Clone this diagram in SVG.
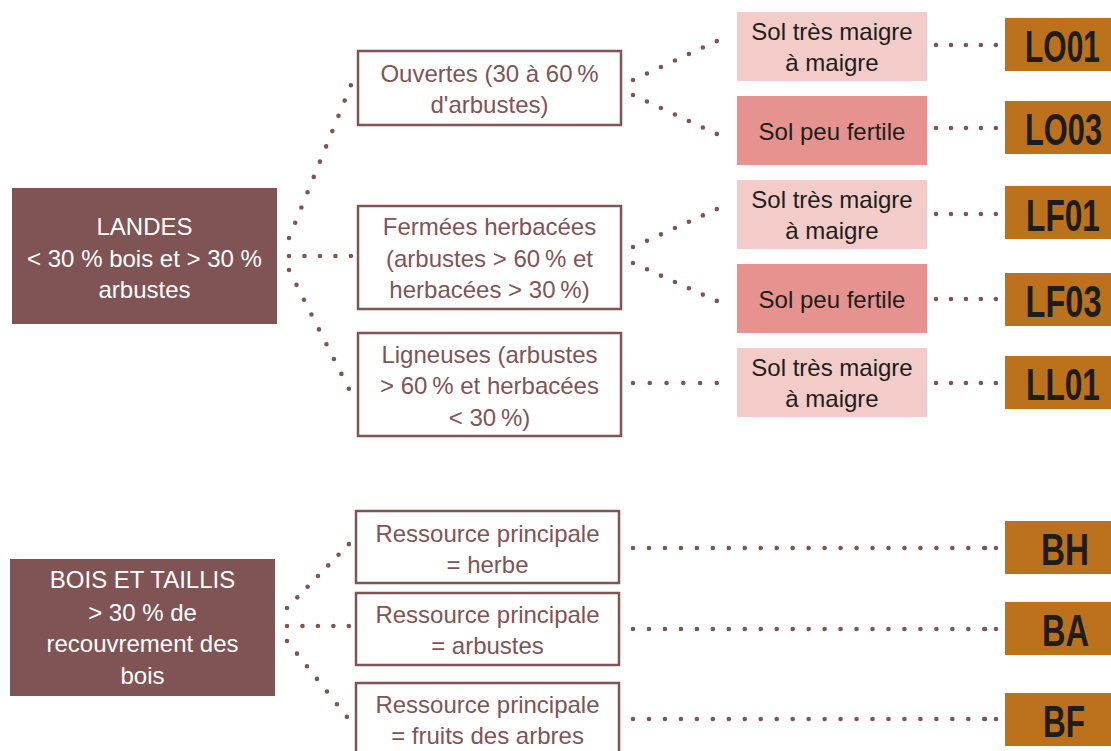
<svg xmlns="http://www.w3.org/2000/svg" width="1111" height="751" viewBox="0 0 1111 751">
<style>
.main{fill:#805455}
.box{fill:#fff;stroke:#805455;stroke-width:2.5}
.light{fill:#f3cbc8}
.dark{fill:#e6938f}
.code{fill:#bc721c}
.t{font-family:"Liberation Sans",Arial,sans-serif;font-size:24px;text-anchor:middle}
.tw{fill:#ffffff}
.tb{fill:#805455}
.td{fill:#1d1d1b}
.tc{font-family:"Liberation Sans",Arial,sans-serif;font-size:44px;font-weight:bold;fill:#1d1d1b;text-anchor:middle}
.c path{fill:none;stroke:#805455;stroke-width:4.6;stroke-linecap:round;stroke-dasharray:0 0.998}
</style>
<rect width="1111" height="751" fill="#ffffff"/>
<g class="c" id="connectors">
<path d="M289 238L351 85" pathLength="10"/>
<path d="M289 256H351" pathLength="4"/>
<path d="M289 270L349 389" pathLength="8"/>
<path d="M633 80L717 41" pathLength="6"/>
<path d="M633 95L717 134" pathLength="6"/>
<path d="M633 247L717 209" pathLength="6"/>
<path d="M633 263L717 301" pathLength="6"/>
<path d="M633 383H717" pathLength="5"/>
<path d="M936 45H996" pathLength="4"/>
<path d="M936 128H996" pathLength="4"/>
<path d="M936 214H996" pathLength="4"/>
<path d="M936 299H996" pathLength="4"/>
<path d="M936 383H996" pathLength="4"/>
<path d="M287 608L349 544" pathLength="6"/>
<path d="M287 626H349" pathLength="4"/>
<path d="M287 641L347 717" pathLength="6"/>
<path d="M633 548H985" pathLength="22"/>
<path d="M985 548H996" pathLength="1"/>
<path d="M633 629H985" pathLength="22"/>
<path d="M985 629H996" pathLength="1"/>
<path d="M633 719H985" pathLength="22"/>
<path d="M985 719H996" pathLength="1"/>
</g>
<g id="landes">
<rect class="main" x="12" y="188" width="265" height="136"/>
<text class="t tw"><tspan x="144.5" y="235">LANDES</tspan><tspan x="144.5" y="267">&lt; 30 % bois et &gt; 30 %</tspan><tspan x="144.5" y="298">arbustes</tspan></text>
</g>
<g id="ouvertes">
<rect class="box" x="358" y="51" width="263" height="74"/>
<text class="t tb"><tspan x="489.5" y="82">Ouvertes (30 à 60&#8201;%</tspan><tspan x="489.5" y="113">d'arbustes)</tspan></text>
</g>
<g id="fermees">
<rect class="box" x="358" y="206" width="263" height="103"/>
<text class="t tb"><tspan x="489.5" y="235">Fermées herbacées</tspan><tspan x="489.5" y="267">(arbustes &gt; 60&#8201;% et</tspan><tspan x="489.5" y="298">herbacées &gt; 30&#8201;%)</tspan></text>
</g>
<g id="ligneuses">
<rect class="box" x="358" y="333" width="263" height="103"/>
<text class="t tb"><tspan x="489.5" y="363">Ligneuses (arbustes</tspan><tspan x="489.5" y="394">&gt; 60&#8201;% et herbacées</tspan><tspan x="489.5" y="426">&lt; 30&#8201;%)</tspan></text>
</g>
<g id="sol1">
<rect class="light" x="737" y="12" width="190" height="69"/>
<text class="t td"><tspan x="832" y="40">Sol très maigre</tspan><tspan x="832" y="71">à maigre</tspan></text>
</g>
<g id="sol2">
<rect class="dark" x="737" y="96" width="190" height="69"/>
<text class="t td" x="832" y="140">Sol peu fertile</text>
</g>
<g id="sol3">
<rect class="light" x="737" y="180" width="190" height="69"/>
<text class="t td"><tspan x="832" y="208">Sol très maigre</tspan><tspan x="832" y="239">à maigre</tspan></text>
</g>
<g id="sol4">
<rect class="dark" x="737" y="264" width="190" height="69"/>
<text class="t td" x="832" y="308">Sol peu fertile</text>
</g>
<g id="sol5">
<rect class="light" x="737" y="348" width="190" height="69"/>
<text class="t td"><tspan x="832" y="376">Sol très maigre</tspan><tspan x="832" y="407">à maigre</tspan></text>
</g>
<g id="lo01">
<rect class="code" x="1005" y="18" width="106" height="53"/>
<text class="tc" transform="translate(1062.5 62) scale(0.68 1)">LO01</text>
</g>
<g id="lo03">
<rect class="code" x="1005" y="101" width="106" height="53"/>
<text class="tc" transform="translate(1063.5 145) scale(0.70 1)">LO03</text>
</g>
<g id="lf01">
<rect class="code" x="1005" y="186" width="106" height="53"/>
<text class="tc" transform="translate(1063 231) scale(0.72 1)">LF01</text>
</g>
<g id="lf03">
<rect class="code" x="1005" y="273" width="106" height="53"/>
<text class="tc" transform="translate(1063.5 317) scale(0.74 1)">LF03</text>
</g>
<g id="ll01">
<rect class="code" x="1005" y="356" width="106" height="53"/>
<text class="tc" transform="translate(1063 400) scale(0.72 1)">LL01</text>
</g>
<g id="bois">
<rect class="main" x="10" y="559" width="265" height="137"/>
<text class="t tw"><tspan x="142.5" y="588">BOIS ET TAILLIS</tspan><tspan x="142.5" y="621">&gt; 30 % de</tspan><tspan x="142.5" y="652">recouvrement des</tspan><tspan x="142.5" y="684">bois</tspan></text>
</g>
<g id="herbe">
<rect class="box" x="356" y="511" width="263" height="72"/>
<text class="t tb"><tspan x="487.5" y="542">Ressource principale</tspan><tspan x="487.5" y="573">= herbe</tspan></text>
</g>
<g id="arbustes">
<rect class="box" x="356" y="593" width="263" height="72"/>
<text class="t tb"><tspan x="487.5" y="623">Ressource principale</tspan><tspan x="487.5" y="654">= arbustes</tspan></text>
</g>
<g id="fruits">
<rect class="box" x="356" y="683" width="263" height="80"/>
<text class="t tb"><tspan x="487.5" y="713">Ressource principale</tspan><tspan x="487.5" y="744">= fruits des arbres</tspan></text>
</g>
<g id="bh">
<rect class="code" x="1005" y="521" width="106" height="53"/>
<text class="tc" transform="translate(1065 565) scale(0.756 1)">BH</text>
</g>
<g id="ba">
<rect class="code" x="1005" y="602" width="106" height="53"/>
<text class="tc" transform="translate(1065.5 646) scale(0.74 1)">BA</text>
</g>
<g id="bf">
<rect class="code" x="1005" y="693" width="106" height="53"/>
<text class="tc" transform="translate(1064 737) scale(0.716 1)">BF</text>
</g>
</svg>
